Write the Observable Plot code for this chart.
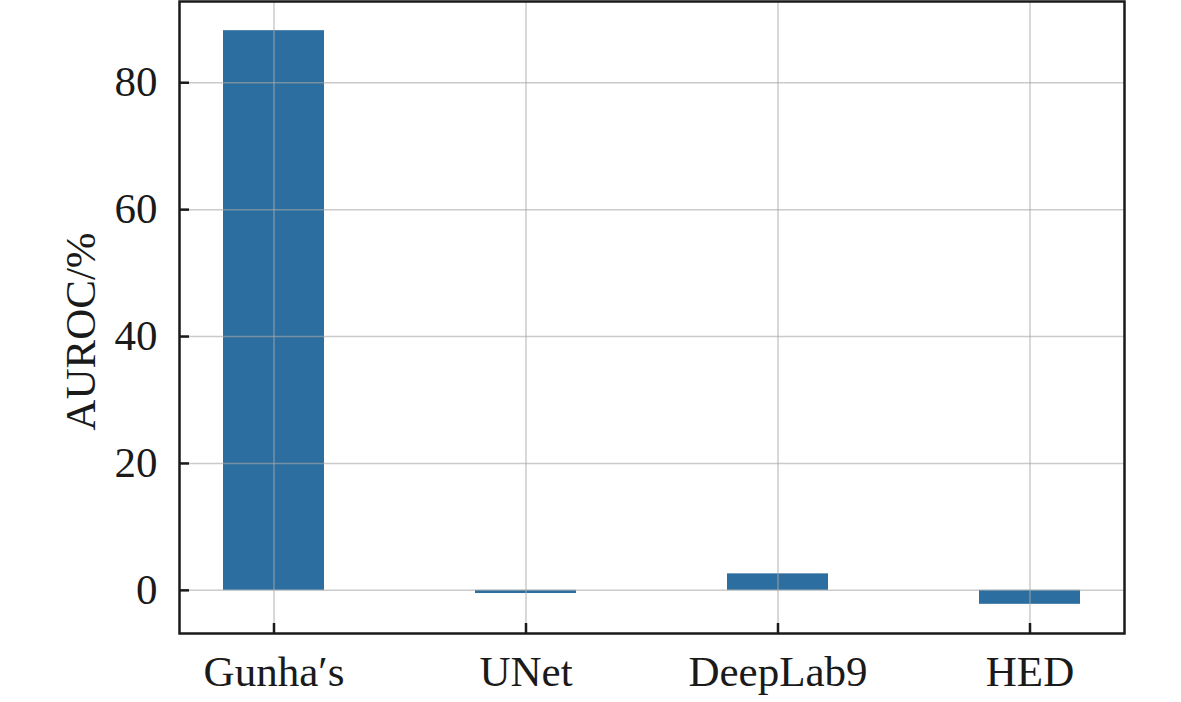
<!DOCTYPE html>
<html>
<head>
<meta charset="utf-8">
<script src="https://cdn.jsdelivr.net/npm/d3@7"></script>
<script src="https://cdn.jsdelivr.net/npm/@observablehq/plot@0.6"></script>
<style>
  html, body { margin: 0; padding: 0; background: #fff; }
  #chart svg { display: block; }
</style>
</head>
<body>
<div id="chart"></div>
<script>
const methods = ["Gunha′s", "UNet", "DeepLab9", "HED"];
const auroc = [88.2, -0.5, 2.6, -2.2];
const yTicks = [0, 20, 40, 60, 80];

const data = methods.map((m, i) => ({method: m, value: auroc[i]}));
const font = "'Liberation Serif', 'Times New Roman', serif";

const chart = Plot.plot({
  width: 1181,
  height: 702,
  marginLeft: 179,
  marginRight: 57,
  marginTop: 1,
  marginBottom: 69,
  style: {fontFamily: font, fontSize: "43px", color: "#1a1a1a", background: "#fff"},
  x: {domain: methods, paddingInner: 0.6, paddingOuter: 0.17, label: null},
  y: {domain: [-6.8, 92.8], ticks: yTicks, label: null},
  marks: [
    Plot.barY(data, {x: "method", y: "value", fill: "#2b6e9f"}),
    Plot.gridX({stroke: "#a8a8a8", strokeOpacity: 0.6, strokeWidth: 1.5}),
    Plot.gridY(yTicks, {stroke: "#a8a8a8", strokeOpacity: 0.6, strokeWidth: 1.5}),
    Plot.axisY(yTicks, {anchor: "left", tickSize: -10, tickPadding: 32, strokeWidth: 2.5, stroke: "#1a1a1a", label: null}),
    Plot.axisX({anchor: "bottom", tickSize: -10, tickPadding: 32, strokeWidth: 2.5, stroke: "#1a1a1a", label: null}),
    Plot.frame({stroke: "#1a1a1a", strokeWidth: 2.5}),
    Plot.text(["AUROC/%"], {frameAnchor: "left", textAnchor: "middle", dx: -98, dy: 14, rotate: -90, fontSize: 43, fill: "#1a1a1a"})
  ]
});
document.getElementById("chart").appendChild(chart);
</script>
</body>
</html>
